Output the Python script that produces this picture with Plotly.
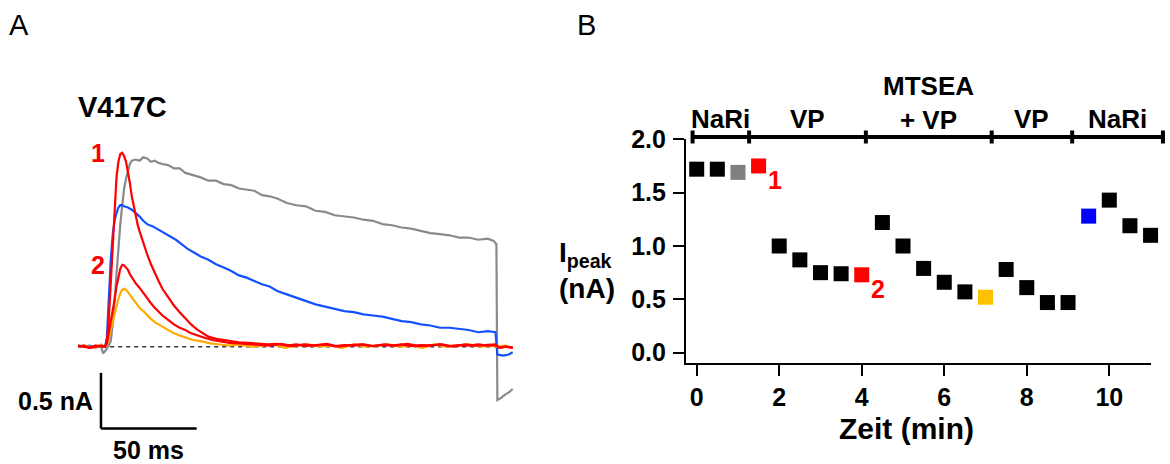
import plotly.graph_objects as go

W, H = 1170, 464

# ---------------- Panel A data: current traces (t in ms, I in nA) ----------------
gray_t = [-14, -11, -8, -5, -2, -1, 0.5, 2, 3, 4, 5, 6, 7, 8, 9, 10, 11, 12, 13, 14, 16, 18, 20, 22, 24, 26, 28, 30,
          33, 36, 39, 42, 46, 50, 54, 58, 62, 66, 70, 74, 78, 82, 86, 90, 95, 100, 105, 110, 115, 120, 125, 130,
          135, 140, 145, 150, 155, 160, 165, 170, 175, 180, 185, 190, 195, 200, 203, 204.5, 205, 207, 209, 211, 213]
gray_i = [0.00, 0.01, -0.01, 0.01, 0.00, -0.06, -0.03, 0.01, 0.05, 0.20, 0.42, 0.68, 0.88, 1.10, 1.27, 1.42, 1.51,
          1.58, 1.64, 1.67, 1.68, 1.67, 1.70, 1.69, 1.66, 1.67, 1.65, 1.64, 1.63, 1.60, 1.60, 1.56, 1.54, 1.52,
          1.49, 1.49, 1.46, 1.45, 1.42, 1.41, 1.40, 1.36, 1.35, 1.33, 1.29, 1.27, 1.26, 1.22, 1.21, 1.18, 1.17,
          1.16, 1.14, 1.13, 1.10, 1.09, 1.07, 1.06, 1.04, 1.02, 1.01, 1.00, 0.98, 0.98, 0.96, 0.97, 0.95, 0.92,
          -0.48, -0.46, -0.43, -0.41, -0.38]

blue_t = [-14, -11, -8, -5, -2, 0, 1, 2, 3, 4, 5, 6, 7, 8, 9, 10, 12, 14, 16, 18, 20, 22, 25, 28, 31, 34, 37, 40,
          43, 46, 50, 54, 58, 62, 66, 70, 74, 78, 82, 86, 90, 95, 100, 105, 110, 115, 120, 125, 130, 135, 140,
          145, 150, 155, 160, 165, 170, 175, 180, 185, 190, 195, 200, 204, 205, 208, 211, 213]
blue_i = [0.01, 0.00, 0.01, -0.01, 0.01, 0.00, 0.08, 0.45, 0.78, 1.00, 1.13, 1.20, 1.25, 1.27, 1.27, 1.26, 1.25,
          1.23, 1.20, 1.17, 1.13, 1.10, 1.08, 1.05, 1.02, 0.99, 0.96, 0.92, 0.88, 0.85, 0.81, 0.78, 0.74, 0.71,
          0.68, 0.64, 0.62, 0.59, 0.56, 0.54, 0.50, 0.47, 0.44, 0.41, 0.38, 0.36, 0.34, 0.32, 0.31, 0.29, 0.28,
          0.27, 0.25, 0.23, 0.22, 0.20, 0.19, 0.17, 0.17, 0.16, 0.15, 0.13, 0.14, 0.13, -0.07, -0.08, -0.07, -0.05]

orange_t = [-14, -11, -8, -5, -2, 0, 1, 2, 3, 4, 5, 6, 7, 8, 9, 10, 11, 12, 14, 16, 18, 20, 22, 24, 26, 28, 30,
            33, 36, 39, 42, 46, 50, 55, 60, 65, 70, 76, 82, 88, 94, 100, 106, 112, 118, 124, 130, 136, 142, 148,
            154, 160, 166, 172, 178, 184, 190, 196, 202, 205, 209, 213]
orange_i = [0.00, 0.01, 0.00, -0.01, 0.02, 0.00, 0.02, 0.07, 0.15, 0.22, 0.30, 0.37, 0.43, 0.48, 0.51, 0.52, 0.51,
            0.49, 0.44, 0.39, 0.35, 0.32, 0.28, 0.25, 0.22, 0.20, 0.18, 0.15, 0.12, 0.10, 0.08, 0.06, 0.05, 0.03,
            0.02, 0.01, 0.02, 0.00, 0.01, 0.02, -0.01, 0.01, 0.02, 0.00, 0.01, -0.01, 0.02, 0.00, 0.01, 0.02,
            0.00, 0.01, -0.01, 0.02, 0.00, 0.01, 0.02, 0.00, 0.01, 0.00, 0.01, -0.01]

red2_t = [-14, -11, -8, -5, -2, 0, 1, 2, 3, 4, 5, 6, 7, 8, 9, 10, 11, 12, 13, 14, 16, 18, 20, 22, 24, 26, 28, 30,
          33, 36, 39, 42, 45, 48, 52, 56, 60, 65, 70, 75, 80, 86, 92, 98, 104, 110, 116, 122, 128, 134, 140, 146,
          152, 158, 164, 170, 176, 182, 188, 194, 200, 204, 206, 210, 213]
red2_i = [0.01, 0.00, -0.01, 0.01, 0.00, 0.00, 0.03, 0.12, 0.24, 0.33, 0.42, 0.54, 0.63, 0.70, 0.735, 0.73, 0.71,
          0.69, 0.65, 0.62, 0.57, 0.53, 0.48, 0.43, 0.39, 0.35, 0.31, 0.28, 0.24, 0.20, 0.17, 0.15, 0.12, 0.10,
          0.08, 0.06, 0.05, 0.035, 0.03, 0.025, 0.02, 0.01, 0.025, 0.005, 0.02, 0.01, 0.025, 0.00, 0.015, 0.02,
          0.005, 0.02, 0.01, 0.025, 0.005, 0.015, 0.02, 0.00, 0.02, 0.01, 0.015, 0.02, -0.01, 0.00, -0.01]

red1_t = [-14, -11, -8, -5, -2, 0, 1, 2, 3, 4, 5, 6, 7, 8, 9, 10, 11, 12, 13, 14, 15, 16, 17, 18, 20, 22, 24, 26,
          28, 30, 33, 36, 39, 42, 45, 48, 51, 54, 58, 62, 66, 70, 75, 80, 85, 90, 95, 100, 105, 110, 115, 120,
          125, 130, 135, 140, 145, 150, 155, 160, 165, 170, 175, 180, 185, 190, 195, 200, 204, 206, 209, 213]
red1_i = [0.00, 0.01, -0.01, 0.00, 0.01, 0.00, 0.04, 0.25, 0.60, 0.95, 1.28, 1.52, 1.66, 1.73, 1.74, 1.71, 1.66,
          1.57, 1.47, 1.35, 1.26, 1.18, 1.10, 1.04, 0.93, 0.83, 0.74, 0.66, 0.59, 0.52, 0.44, 0.37, 0.31, 0.25,
          0.20, 0.155, 0.12, 0.09, 0.07, 0.06, 0.045, 0.04, 0.035, 0.03, 0.02, 0.025, 0.01, 0.02, 0.005, 0.015,
          0.02, 0.005, 0.015, 0.01, 0.02, 0.005, 0.015, 0.01, 0.02, 0.005, 0.015, 0.01, 0.02, 0.005, 0.015, 0.01,
          0.02, 0.01, 0.015, -0.01, 0.00, -0.01]

trace_names = ["NaRi (gray)", "NaRi (blue)", "MTSEA+VP", "VP (2)", "VP (1)"]
trace_colors = ["#8a8a8a", "#1450ff", "#ffaa00", "#ff0000", "#ff0000"]

# ---------------- Panel B data ----------------
time_min = [0, 0.5, 1, 1.5, 2, 2.5, 3, 3.5, 4, 4.5, 5, 5.5, 6, 6.5, 7, 7.5, 8, 8.5, 9, 9.5, 10, 10.5, 11]
ipeak_nA = [1.72, 1.72, 1.69, 1.75, 1.00, 0.87, 0.75, 0.74, 0.73, 1.22, 1.00, 0.79, 0.66, 0.57, 0.52, 0.78,
            0.61, 0.47, 0.47, 1.28, 1.43, 1.19, 1.10]
point_colors = ["#000000", "#000000", "#808080", "#ff0000", "#000000", "#000000", "#000000", "#000000",
                "#ff0000", "#000000", "#000000", "#000000", "#000000", "#000000", "#ffc000", "#000000",
                "#000000", "#000000", "#000000", "#0000ff", "#000000", "#000000", "#000000"]
point_labels = {3: "1", 8: "2"}

phase_edges = [-0.1, 1.27, 4.1, 7.15, 9.1, 11.3]
phase_labels = ["NaRi", "VP", "MTSEA<br>+ VP", "VP", "NaRi"]

x_ticks = [0, 2, 4, 6, 8, 10]
y_ticks = [0.0, 0.5, 1.0, 1.5, 2.0]

# ---------------- helpers (pixel -> paper) ----------------
def px(x):
    return x / W

def py(y):
    return 1 - y / H

FONT = "Liberation Sans, Arial, sans-serif"

fig = go.Figure()

# Panel A geometry: 1 ms = 1.914 px, 1 nA = 111.4 px, t=0 at px 105, I=0 at py 346.7
MS_PX, NA_PX, T0_PX, I0_PY = 1.914, 111.4, 105.0, 346.7
A_L, A_R, A_T, A_B = 60, 540, 125, 440

# baseline dashed
fig.add_trace(go.Scatter(x=[gray_t[0], gray_t[-1]], y=[0, 0], mode="lines", xaxis="x", yaxis="y",
                         line=dict(color="#333333", width=1.5, dash="4px,4px"), showlegend=False,
                         hoverinfo="skip"))
for tt, ii, col, nm in zip([gray_t, blue_t, orange_t, red2_t, red1_t],
                           [gray_i, blue_i, orange_i, red2_i, red1_i], trace_colors, trace_names):
    fig.add_trace(go.Scatter(x=tt, y=ii, mode="lines", xaxis="x", yaxis="y", name=nm,
                             line=dict(color=col, width=2.2), showlegend=False))

# Panel B scatter
fig.add_trace(go.Scatter(x=time_min, y=ipeak_nA, mode="markers", xaxis="x2", yaxis="y2",
                         marker=dict(symbol="square", size=15, color=point_colors, line=dict(width=0)),
                         cliponaxis=False, showlegend=False))

# Phase bar (on its own hidden axis with identical min/pixel scale)
tick_x, tick_y = [], []
for e in phase_edges:
    tick_x += [e, e, None]
    tick_y += [-0.5, 0.5, None]
fig.add_trace(go.Scatter(x=[phase_edges[0], phase_edges[-1]], y=[0, 0], mode="lines", xaxis="x3", yaxis="y3",
                         line=dict(color="black", width=4), showlegend=False, hoverinfo="skip"))
fig.add_trace(go.Scatter(x=tick_x, y=tick_y, mode="lines", xaxis="x3", yaxis="y3",
                         line=dict(color="black", width=4), showlegend=False, hoverinfo="skip"))

# B axis geometry
B_L, B_R, B_T, B_B = 685.7, 1150.7, 139.3, 363.3
X0_PX, MIN_PX = 696.7, 41.26
Y0_PY, NAB_PX = 352.7, 106.7
xb_range = [(B_L - X0_PX) / MIN_PX, (B_R - X0_PX) / MIN_PX]
yb_range = [(Y0_PY - B_B) / NAB_PX, (Y0_PY - B_T) / NAB_PX]

annotations = []
shapes = []

# Panel letters
annotations.append(dict(text="A", x=px(19), y=py(25), xref="paper", yref="paper", showarrow=False,
                        font=dict(family=FONT, size=29, color="black"), xanchor="center", yanchor="middle"))
annotations.append(dict(text="B", x=px(586), y=py(25), xref="paper", yref="paper", showarrow=False,
                        font=dict(family=FONT, size=29, color="black"), xanchor="center", yanchor="middle"))
# Panel A title
annotations.append(dict(text="<b>V417C</b>", x=px(122), y=py(107), xref="paper", yref="paper", showarrow=False,
                        font=dict(family=FONT, size=29, color="black"), xanchor="center", yanchor="middle"))
# trace numbers
for lab, arr in (("1", red1_i), ("2", red2_i)):
    annotations.append(dict(text="<b>%s</b>" % lab, x=-3.5, y=max(arr), xref="x", yref="y", showarrow=False,
                            font=dict(family=FONT, size=25, color="#ff0000"), xanchor="center",
                            yanchor="middle"))
# scale bar
SB_T, SB_V = -2.1, -0.735
shapes.append(dict(type="line", xref="x", yref="y", x0=SB_T, x1=SB_T, y0=SB_V, y1=SB_V + 0.5,
                   line=dict(color="black", width=2.5)))
shapes.append(dict(type="line", xref="x", yref="y", x0=SB_T, x1=SB_T + 50, y0=SB_V, y1=SB_V,
                   line=dict(color="black", width=2.5)))
annotations.append(dict(text="<b>0.5 nA</b>", x=SB_T, y=SB_V + 0.25, xref="x", yref="y", showarrow=False,
                        xshift=-6, font=dict(family=FONT, size=25, color="black"), xanchor="right",
                        yanchor="middle"))
annotations.append(dict(text="<b>50 ms</b>", x=SB_T + 25, y=SB_V, xref="x", yref="y", showarrow=False,
                        yshift=-21, font=dict(family=FONT, size=25, color="black"), xanchor="center",
                        yanchor="middle"))

# Panel B labels
for idx, lab in point_labels.items():
    annotations.append(dict(text="<b>%s</b>" % lab, x=time_min[idx], y=ipeak_nA[idx], xref="x2", yref="y2",
                            showarrow=False, xshift=16, yshift=-14,
                            font=dict(family=FONT, size=25, color="#ff0000"), xanchor="center",
                            yanchor="middle"))
for i, lab in enumerate(phase_labels):
    mid = (phase_edges[i] + phase_edges[i + 1]) / 2
    nbr = lab.count("<br>")
    annotations.append(dict(text="<b>%s</b>" % lab, x=mid, y=py(119 - 15.5 * nbr), xref="x3", yref="paper",
                            showarrow=False, font=dict(family=FONT, size=26, color="black"),
                            xanchor="center", yanchor="middle"))
annotations.append(dict(text="<b>Zeit (min)</b>", x=px(906), y=py(428), xref="paper", yref="paper",
                        showarrow=False, font=dict(family=FONT, size=30, color="black"),
                        xanchor="center", yanchor="middle"))
annotations.append(dict(text="<b>I<sub>peak</sub><br>(nA)</b>", x=px(557), y=py(270), xref="paper",
                        yref="paper", showarrow=False, align="left",
                        font=dict(family=FONT, size=28, color="black"), xanchor="left", yanchor="middle"))

fig.update_layout(
    width=W, height=H, margin=dict(l=0, r=0, t=0, b=0, pad=0, autoexpand=False), autosize=False,
    paper_bgcolor="white", plot_bgcolor="rgba(0,0,0,0)", showlegend=False,
    xaxis=dict(domain=[px(A_L), px(A_R)], range=[(A_L - T0_PX) / MS_PX, (A_R - T0_PX) / MS_PX],
               visible=False, anchor="y"),
    yaxis=dict(domain=[py(A_B), py(A_T)], range=[(I0_PY - A_B) / NA_PX, (I0_PY - A_T) / NA_PX],
               visible=False, anchor="x"),
    xaxis2=dict(domain=[px(B_L), px(B_R)], range=xb_range, anchor="y2", showline=True, linecolor="black",
                linewidth=1.5, ticks="outside", ticklen=11, tickwidth=1.5, tickcolor="black",
                tickvals=x_ticks, showgrid=False, zeroline=False, ticklabelstandoff=0, automargin=False,
                tickfont=dict(family=FONT, size=25, color="black", weight="bold")),
    yaxis2=dict(domain=[py(B_B), py(B_T)], range=yb_range, anchor="x2", showline=True, linecolor="black",
                linewidth=1.5, ticks="outside", ticklen=11, tickwidth=1.5, tickcolor="black",
                tickvals=y_ticks, tickformat=".1f", showgrid=False, zeroline=False, ticklabelstandoff=2,
                automargin=False, tickfont=dict(family=FONT, size=25, color="black", weight="bold")),
    xaxis3=dict(domain=[px(B_L), 1.0], range=[xb_range[0], xb_range[0] + (W - B_L) / MIN_PX],
                visible=False, anchor="y3"),
    yaxis3=dict(domain=[py(150), py(124)], range=[-1, 1], visible=False, anchor="x3"),
    annotations=annotations, shapes=shapes,
)

fig.write_html("out.html")
